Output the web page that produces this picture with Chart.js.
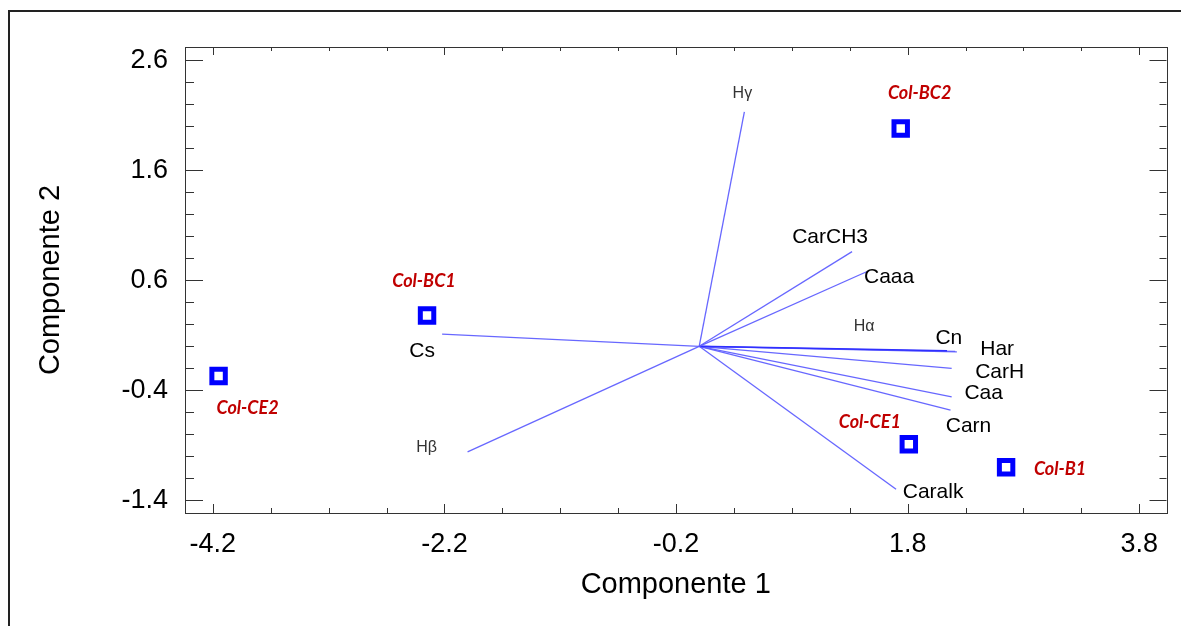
<!DOCTYPE html>
<html>
<head>
<meta charset="utf-8">
<script src="https://cdn.jsdelivr.net/npm/chart.js@4.4.1/dist/chart.umd.min.js"></script>
<style>
  html, body { margin: 0; padding: 0; background: #fff; }
  canvas { display: block; }
</style>
</head>
<body>
<canvas id="biplot" width="1181" height="626"></canvas>
<script>
// Muestras (puntuaciones en componentes 1 y 2)
const muestras = ['Col-CE2', 'Col-BC1', 'Col-BC2', 'Col-CE1', 'Col-B1'];
const muestrasX = [-4.15, -2.35, 1.74, 1.81, 2.65];
const muestrasY = [-0.27, 0.28, 1.98, -0.89, -1.10];

// Variables (pesos de cada variable)
const variables = ['Hγ', 'CarCH3', 'Caaa', 'Hα', 'Cn', 'Har', 'CarH', 'Caa', 'Carn', 'Caralk', 'Cs', 'Hβ'];
const variablesX = [0.39, 1.32, 1.45, 2.14, 2.225, 2.21, 2.18, 2.18, 2.17, 1.70, -2.22, -2.00];
const variablesY = [2.13, 0.86, 0.68, -0.04, -0.05, -0.046, -0.20, -0.46, -0.58, -1.30, 0.11, -0.96];

// Marcas de los ejes
const ticksX = [-4.2, -2.2, -0.2, 1.8, 3.8];
const ticksY = [-1.4, -0.4, 0.6, 1.6, 2.6];

// Desplazamiento (px) de cada etiqueta respecto a su punto
const offsetMuestras = {
    'Col-CE2': [29, 32], 'Col-BC1': [-3, -34], 'Col-BC2': [19, -35],
    'Col-CE1': [-39, -22], 'Col-B1': [54, 2]
};
const offsetVariables = {
    'Hγ': [-2, -18], 'CarCH3': [-22, -14], 'Caaa': [22, 6], 'Hα': [-83, -24],
    'Cn': [-8, -14], 'Har': [42, -2], 'CarH': [48, 4], 'Caa': [32, -4],
    'Carn': [18, 16], 'Caralk': [37, 3], 'Cs': [-20, 17], 'Hβ': [-41, -4]
};
const griegas = ['Hγ', 'Hα', 'Hβ'];

const AZUL_LINEA = 'rgba(95, 95, 255, 0.95)';

// Dataset de muestras (va primero para quedar encima)
const datasets = [{
    label: 'Muestras',
    data: muestras.map((m, i) => ({ x: muestrasX[i], y: muestrasY[i] })),
    pointStyle: 'rect',
    pointRadius: 9.5,
    borderWidth: 5,
    borderColor: '#0000ff',
    backgroundColor: '#ffffff',
    showLine: false
}];

// Un segmento desde el origen por cada variable
variables.forEach((v, i) => {
    datasets.push({
        label: v,
        data: [{ x: 0, y: 0 }, { x: variablesX[i], y: variablesY[i] }],
        showLine: true,
        borderColor: v === 'Hα' ? '#2f2fff' : AZUL_LINEA,
        borderWidth: v === 'Hα' ? 1.6 : 1.3,
        pointRadius: 0,
        fill: false
    });
});

function rango(inicio, fin, paso) {
    const r = [];
    for (let k = 0; inicio + k * paso <= fin + 1e-9; k++) r.push(+(inicio + k * paso).toFixed(2));
    return r;
}

// Borde del área de trazado y marcas hacia adentro en los cuatro lados
const marcasInternas = {
    id: 'marcasInternas',
    afterDraw(chart) {
        const { ctx, chartArea: a, scales: { x, y } } = chart;
        ctx.save();
        ctx.strokeStyle = '#333';
        ctx.lineWidth = 1;
        ctx.strokeRect(Math.round(a.left) + 0.5, Math.round(a.top) + 0.5,
            Math.round(a.right - a.left), Math.round(a.bottom - a.top));
        ctx.beginPath();
        rango(-4.2, 3.8, 0.5).forEach(v => {
            const px = Math.round(x.getPixelForValue(v)) + 0.5;
            const mayor = ticksX.some(t => Math.abs(t - v) < 1e-6);
            ctx.moveTo(px, a.bottom); ctx.lineTo(px, a.bottom - (mayor ? 9 : 5));
            ctx.moveTo(px, a.top); ctx.lineTo(px, a.top + (mayor ? 8 : 4));
        });
        rango(-1.4, 2.6, 0.2).forEach(v => {
            const py = Math.round(y.getPixelForValue(v)) + 0.5;
            const mayor = ticksY.some(t => Math.abs(t - v) < 1e-6);
            ctx.moveTo(a.left, py); ctx.lineTo(a.left + (mayor ? 18 : 9), py);
            ctx.moveTo(a.right, py); ctx.lineTo(a.right - (mayor ? 17 : 7), py);
        });
        ctx.stroke();
        ctx.restore();
    }
};

// Etiquetas de muestras y variables
const etiquetas = {
    id: 'etiquetas',
    afterDatasetsDraw(chart) {
        const { ctx } = chart;
        ctx.save();
        ctx.textAlign = 'center';
        ctx.textBaseline = 'middle';

        chart.getDatasetMeta(0).data.forEach((p, i) => {
            const [dx, dy] = offsetMuestras[muestras[i]];
            ctx.font = 'italic bold 18px Lato';
            ctx.fillStyle = '#c00000';
            ctx.fillText(muestras[i], p.x + dx, p.y + dy);
        });

        variables.forEach((v, i) => {
            const fin = chart.getDatasetMeta(i + 1).data[1];
            const [dx, dy] = offsetVariables[v];
            if (griegas.includes(v)) {
                ctx.font = '16px "Liberation Sans"';
                ctx.fillStyle = '#333';
            } else {
                ctx.font = '21px "Liberation Sans"';
                ctx.fillStyle = '#000';
            }
            ctx.fillText(v, fin.x + dx, fin.y + dy);
        });
        ctx.restore();
    }
};

// Marco exterior (solo borde superior e izquierdo)
const marcoExterior = {
    id: 'marcoExterior',
    beforeDraw(chart) {
        const { ctx, width, height } = chart;
        ctx.save();
        ctx.fillStyle = '#fff';
        ctx.fillRect(0, 0, width, height);
        ctx.strokeStyle = '#222';
        ctx.lineWidth = 2;
        ctx.beginPath();
        ctx.moveTo(width, 11);
        ctx.lineTo(9, 11);
        ctx.lineTo(9, height);
        ctx.stroke();
        ctx.restore();
    }
};

new Chart(document.getElementById('biplot'), {
    type: 'scatter',
    data: { datasets },
    options: {
        responsive: false,
        animation: false,
        devicePixelRatio: 1,
        layout: { padding: { top: 47, right: 8, left: 0, bottom: 0 } },
        plugins: {
            legend: { display: false },
            tooltip: { enabled: false }
        },
        scales: {
            x: {
                type: 'linear',
                min: -4.44,
                max: 4.035,
                afterFit: s => { s.height = 113; },
                afterBuildTicks: s => { s.ticks = ticksX.map(v => ({ value: v })); },
                grid: { display: false },
                border: { display: false },
                ticks: {
                    autoSkip: false,
                    maxRotation: 0,
                    padding: 7,
                    color: '#000',
                    font: { family: 'Liberation Sans', size: 27 },
                    callback: v => v.toFixed(1)
                },
                title: {
                    display: true,
                    text: 'Componente 1',
                    color: '#000',
                    font: { family: 'Liberation Sans', size: 29 },
                    padding: { top: 0, bottom: 24 }
                }
            },
            y: {
                type: 'linear',
                min: -1.515,
                max: 2.72,
                afterFit: s => { s.width = 185; },
                afterBuildTicks: s => { s.ticks = ticksY.map(v => ({ value: v })); },
                grid: { display: false },
                border: { display: false },
                ticks: {
                    autoSkip: false,
                    padding: 9,
                    color: '#000',
                    font: { family: 'Liberation Sans', size: 27 },
                    callback: v => v.toFixed(1)
                },
                title: {
                    display: true,
                    text: 'Componente 2',
                    color: '#000',
                    font: { family: 'Liberation Sans', size: 29 },
                    padding: { top: 34, bottom: 0 }
                }
            }
        }
    },
    plugins: [marcoExterior, marcasInternas, etiquetas]
});
</script>
</body>
</html>
